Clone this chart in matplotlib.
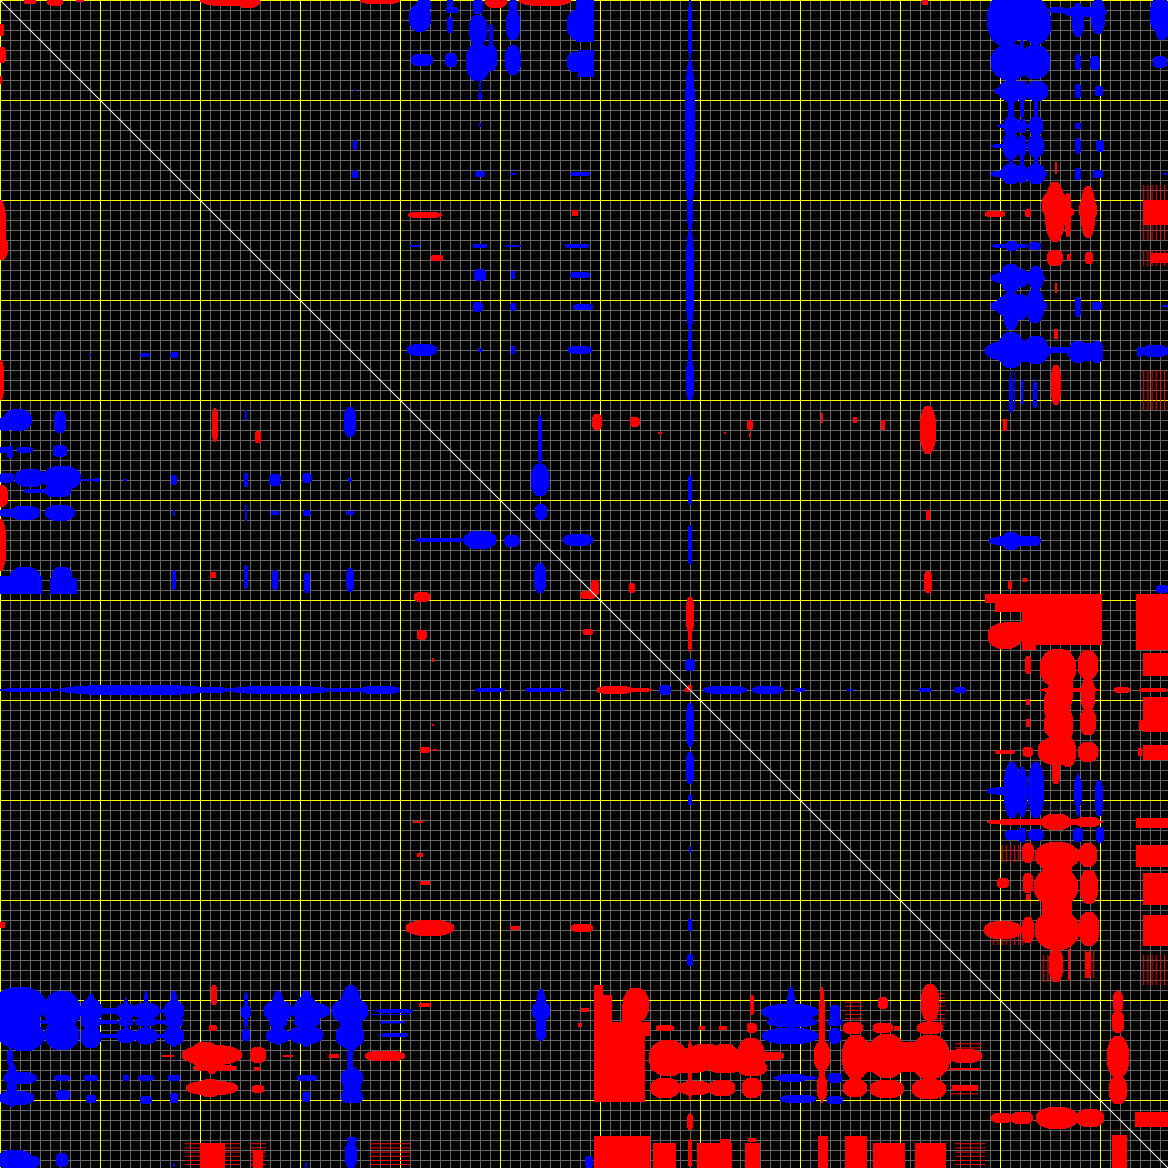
import matplotlib
matplotlib.use("Agg")
import matplotlib.pyplot as plt
from matplotlib.patches import Ellipse, Rectangle
import sys

N = 1168
minor_ticks = list(range(0, N, 10))
major_ticks = list(range(0, N, 100))

# correlation-matrix regions of the upper triangle: column, row, half width, half height
blue_blobs = [
    # top right block
    (1005,20,18,26),(1020,16,28,24),(1036,24,15,20),(1011,48,4,14),(1022,50,2,10),(1036,48,3,12),
    (1010,62,19,18),(1035,62,15,17),(1022,62,26,13),(1011,91,12,11),(1022,91,6,10),(1037,91,11,10),(1020,91,26,5),
    (1011,110,3,12),(1022,108,2,10),(1036,108,2,10),(1011,126,7,10),(1022,126,4,7),(1036,126,7,9),(1020,126,23,2),
    (1011,146,8,13),(1022,146,4,11),(1036,146,8,11),(1018,146,27,2),(1011,160,2,8),(1022,160,2,6),(1036,160,2,8),
    (1011,174,10,10),(1022,174,5,9),(1036,174,9,10),(1019,174,28,4),
    (1078,20,6,17),(1098,16,7,18),(1085,12,22,5),(1057,10,8,3),(1078,62,3,8),(1095,63,5,7),(1078,91,3,7),(1099,91,4,5),
    (1078,126,3,3),(1078,146,3,8),(1100,146,4,6),(1078,174,3,6),(1098,174,5,4),
    (1160,15,10,18),(1162,30,6,10),(1160,62,7,6),(1165,174,2,1),
    (1012,246,6,5),(1010,246,18,2),(1035,246,6,4),(1011,278,11,14),(1022,278,5,9),(1036,278,7,12),(1018,278,27,6),
    (1011,296,3,8),(1011,310,8,20),(1011,306,14,12),(1022,307,5,13),(1035,306,9,17),(1019,306,28,8),
    (1078,307,3,10),(1097,306,5,4),(1165,306,3,1),
    (1018,351,33,11),(1011,350,13,18),(1036,350,12,14),(1060,350,11,3),(1085,352,18,9),(1078,352,9,11),(1097,352,6,11),
    (1140,352,3,5),(1155,351,13,6),(1011,395,2,18),(1022,392,1,12),(1035,395,2,13),
    # middle top block
    (420,18,11,14),(424,5,7,6),(413,18,3,7),(450,5,3,6),(452,10,6,3),(450,25,3,8),(478,30,9,15),(478,6,5,8),(491,35,2,11),
    (513,25,7,15),(513,8,4,9),(577,25,10,15),(422,60,11,6),(451,60,6,7),(478,62,12,19),(491,58,6,13),
    (513,60,8,15),(575,62,8,10),(480,90,1,8),(480,97,2,3),(480,125,1,2),(480,174,5,3),(513,174,3,1),(580,174,10,2),
    (355,145,1,5),(355,173,2,3),(415,246,5,1),(480,246,7,2),(513,246,8,1),(577,246,12,2),
    (480,275,6,6),(513,275,2,4),(580,275,10,3),(478,307,5,5),(513,307,3,4),(583,307,10,3),
    (422,350,15,6),(480,350,2,2),(513,350,2,4),(580,350,12,4),(145,355,4,2),(175,355,3,3),(90,355,1,1),
    # column 690
    (690,30,1.5,30),(690,135,5,75),(690,200,3,30),(690,280,4,50),(690,350,1.5,25),(690,380,4,20),
    (690,490,2,15),(690,545,2,20),(690,665,5,6),
    (725,690,22,4),(768,690,16,4),(800,690,5,2),(850,690,3,1),(925,690,6,2),(960,690,6,3),
    # centre
    (540,480,9,16),(541,512,6,8),(540,440,2,25),(540,430,1,13),(578,540,15,6),
    (1015,541,26,5),(1011,541,9,9),(1035,541,5,5),(1162,589,6,4),
    # lower right
    (1012,790,8,28),(1022,792,5,25),(1036,790,8,28),(1015,791,28,4),(1078,792,4,15),(1078,795,2,22),(1099,798,4,18),
    (1012,835,7,5),(1022,835,4,7),(1036,835,8,6),(1078,835,5,7),(1100,835,4,8),
]
red_blobs = [
    # top row
    (30,1,6,3),(55,1,8,5),(80,0,4,2),(230,0,30,6),(380,0,20,4),(248,0,12,8),(925,2,3,3),(496,0,11,8),(545,0,26,6),
    # bands
    (1055,212,10,30),(1055,205,13,15),(1068,215,3,22),(1068,212,6,4),(1088,212,7,26),(1088,210,9,11),
    (995,214,10,3),(1028,213,3,4),(1055,258,8,8),(1069,257,2,3),(1089,258,4,6),
    (1056,288,1,5),(1056,334,2,5),(1056,385,5,20),(1056,168,1,6),
    (425,215,17,3),(575,213,3,3),(437,258,6,3),
    # right block top
    (1005,636,17,13),(1015,630,22,8),(1058,668,18,19),(1088,665,10,15),(1056,705,12,20),(1056,725,12,13),(1057,710,10,40),
    (1068,680,5,30),(1068,725,5,15),(1088,695,7,16),(1088,722,8,13),(1057,751,19,14),(1068,752,8,15),(1088,752,10,10),
    (1028,752,5,5),(1056,772,4,12),(1028,665,3,9),(1028,702,2,3),(1028,723,2,4),(1070,690,30,2),(1122,690,8,3),
    (1153,690,14,2),(1005,752,10,2),(1140,752,2,4),(1141,725,2,5),
    # lower bands
    (1056,822,15,8),(1045,822,58,3),(1088,822,12,5),(1057,856,22,14),(1028,853,6,10),(1088,855,9,12),
    (1056,887,22,19),(1028,883,5,10),(1089,887,9,17),(1003,883,6,5),(1028,897,2,3),
    (1057,930,22,20),(1089,929,10,17),(1028,930,6,13),(1003,930,19,9),
    (1056,965,7,17),(1069,965,1,16),(1088,965,3,13),
    # vertical at 1118
    (1118,1002,5,11),(1118,1022,6,11),(1118,1057,11,21),(1118,1090,9,14),
    # column 690
    (690,615,4,18),(690,640,1.5,12),
    # isolated
    (597,422,5,8),(635,422,5,5),(660,433,2,1),(725,433,1,1),(750,425,3,5),(750,435,1,2),(883,425,2,5),
    (928,430,8,24),(928,515,2,5),(928,582,4,11),(1005,425,2,6),(822,418,1,5),(855,420,2,3),
    (595,588,4,8),(632,588,3,5),(1025,580,2,2),(1010,585,2,4),(688,690,3,2),
]
blue_rects = [
    (576,0,594,42),(578,50,594,77),
]
red_rects = [
    (1036,594,1102,645),(985,594,1102,603),(995,594,1036,612),(1022,594,1036,650),(1136,594,1168,650),
    (1143,653,1168,676),(1143,697,1168,732),(1143,745,1168,760),
    (1136,818,1168,828),(1136,845,1168,867),(1143,873,1168,905),(1143,915,1168,946),
    (1143,200,1168,225),(1150,253,1168,263),
    (1112,1135,1127,1168),(1042,848,1072,945),
]
red_hatch = [
    (1142,185,1168,240),(1143,250,1168,266),(1140,370,1165,410),(1000,845,1020,862),(990,925,1025,945),
    (1142,955,1168,985),(1040,955,1050,982),(1082,950,1096,978),
]
blue_hatch = [
    (1008,370,1016,410),(1020,380,1026,405),(1032,378,1038,405),(1110,1095,1125,1100),
]

plt.rcParams["hatch.linewidth"] = 0.7
fig = plt.figure(figsize=(N / 100, N / 100), dpi=100, facecolor="black")
ax = fig.add_axes([0, 0, 1, 1], facecolor="black")
ax.set_xlim(0, N)
ax.set_ylim(N, 0)
ax.axis("off")

for t in minor_ticks:
    ax.axvline(t, color="#646464", lw=0.72, zorder=1)
    ax.axhline(t, color="#646464", lw=0.72, zorder=1)
for t in major_ticks:
    ax.axvline(t, color="#ffff00", lw=0.72, zorder=2)
    ax.axhline(t, color="#ffff00", lw=0.72, zorder=2)


def add_all(blobs, rects, hatches, color):
    for cx, cy, hw, hh in blobs:
        for (a, b, w, h) in ((cx, cy, hw, hh), (cy, cx, hh, hw)):
            ax.add_patch(Ellipse((a, b), 2 * w, 2 * h, facecolor=color, edgecolor="none",
                                 antialiased=False, zorder=3))
    for x0, y0, x1, y1 in rects:
        for (a, b, c, d) in ((x0, y0, x1, y1), (y0, x0, y1, x1)):
            ax.add_patch(Rectangle((a, b), c - a, d - b, facecolor=color, edgecolor="none",
                                   antialiased=False, zorder=3))
    for x0, y0, x1, y1 in hatches:
        ax.add_patch(Rectangle((x0, y0), x1 - x0, y1 - y0, fill=False, hatch="||||",
                               edgecolor=color, linewidth=0, zorder=3))
        ax.add_patch(Rectangle((y0, x0), y1 - y0, x1 - x0, fill=False, hatch="----",
                               edgecolor=color, linewidth=0, zorder=3))


add_all(blue_blobs, blue_rects, blue_hatch, "#0000ff")
add_all(red_blobs, red_rects, red_hatch, "#ff0000")

ax.plot([0, N], [0, N], color="#ffffff", lw=0.72, zorder=5)

fig.savefig("out.png", dpi=100, facecolor="black")
